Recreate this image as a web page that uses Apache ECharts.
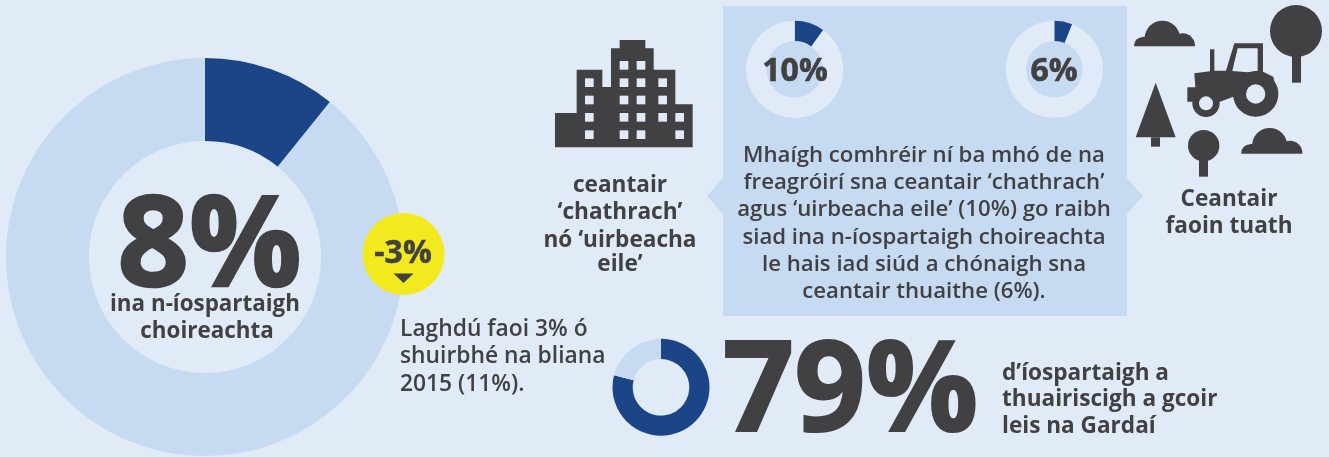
<!DOCTYPE html>
<html>
<head>
<meta charset="utf-8">
<title>Íospartaigh choireachta</title>
<style>
  html, body { margin: 0; padding: 0; background: #e1ebf8; }
  #main { width: 1329px; height: 457px; }
</style>
</head>
<body>
<div id="main"></div>
<script src="https://cdn.jsdelivr.net/npm/echarts@6/dist/echarts.min.js"></script>
<script>
var sliceNames = ['Sciar', 'Eile'];
var overallValues = [10.8, 89.2];
var urbanValues = [10, 90];
var ruralValues = [6, 94];
var reportedValues = [79, 21];

var overallBig = '8%';
var overallLines = ['ina n-íospartaigh', 'choireachta'];
var changeLabel = '-3%';
var changeLines = ['Laghdú faoi 3% ó', 'shuirbhé na bliana', '2015 (11%).'];
var urbanLabel = '10%';
var ruralLabel = '6%';
var urbanLines = ['ceantair', '‘chathrach’', 'nó ‘uirbeacha', 'eile’'];
var ruralLines = ['Ceantair', 'faoin tuath'];
var panelLines = [
  'Mhaígh comhréir ní ba mhó de na',
  'freagróirí sna ceantair ‘chathrach’',
  'agus ‘uirbeacha eile’ (10%) go raibh',
  'siad ina n-íospartaigh choireachta',
  'le hais iad siúd a chónaigh sna',
  'ceantair thuaithe (6%).'
];
var reportedBig = '79%';
var reportedLines = ['d’íospartaigh a', 'thuairiscigh a gcoir', 'leis na Gardaí'];

var BG = '#e1ebf8';
var LIGHT = '#c6dbf1';
var DARK = '#1c4587';
var INK = '#414042';
var YELLOW = '#f2e91f';
var FONT = '"Open Sans", sans-serif';

function donut(values, cx, cy, inner, outer, colors) {
  return {
    type: 'pie',
    silent: true,
    animation: false,
    z: 2,
    center: [cx, cy],
    radius: [inner, outer],
    startAngle: 90,
    label: { show: false },
    labelLine: { show: false },
    data: sliceNames.map(function (name, i) {
      return { name: name, value: values[i], itemStyle: { color: colors[i] } };
    })
  };
}

// thicken is a stroke in the ink colour, the big numbers are heavier than plain bold
function text(str, x, y, size, weight, align, thicken) {
  return {
    type: 'text',
    z: 100,
    style: {
      text: str,
      x: x,
      y: y,
      fill: INK,
      stroke: thicken ? INK : null,
      lineWidth: thicken || 0,
      font: weight + ' ' + size + 'px ' + FONT,
      textAlign: align || 'center',
      textVerticalAlign: 'middle'
    }
  };
}

function lines(list, x, ys, size, weight, align) {
  return list.map(function (str, i) {
    return text(str, x, ys[i], size, weight, align);
  });
}

function poly(points, color, z) {
  return { type: 'polygon', z: z === undefined ? 50 : z, shape: { points: points }, style: { fill: color } };
}

function circle(cx, cy, r, color, z) {
  return { type: 'circle', z: z === undefined ? 50 : z, shape: { cx: cx, cy: cy, r: r }, style: { fill: color } };
}

function box(x, y, w, h, color, z) {
  return { type: 'rect', z: z === undefined ? 50 : z, shape: { x: x, y: y, width: w, height: h }, style: { fill: color } };
}

// icons are traced at 3x, the group scales them back
function buildingIcon() {
  var kids = [poly([[45, 339], [110, 339], [110, 209], [187, 209], [187, 261], [213, 261], [213, 145], [239, 145],
    [239, 120], [316, 120], [316, 145], [341, 145], [341, 209], [406, 209], [406, 313], [458, 313], [458, 442], [45, 442]], INK)];
  var windows = [
    [239, 183], [290, 183],
    [135, 235], [239, 235], [290, 235], [355, 235],
    [135, 287], [239, 287], [290, 287], [355, 287],
    [135, 339], [239, 339], [290, 339], [355, 339], [406, 339],
    [135, 391], [239, 391], [290, 391], [406, 391]
  ];
  windows.forEach(function (w) {
    kids.push(box(w[0], w[1], 26, 26, BG, 51));
  });
  return { type: 'group', x: 540, y: 0, scaleX: 1 / 3, scaleY: 1 / 3, children: kids };
}

// three humps, the flat base is a bg strip laid over them
function cloud(dx, dy) {
  return {
    type: 'group',
    x: dx,
    y: dy,
    children: [
      circle(517, 115, 53, INK),
      circle(578, 137, 37, INK),
      circle(458, 137, 26, INK),
      box(458, 110, 120, 29, INK),
      box(425, 139, 198, 45, BG, 51)
    ]
  };
}

function countryIcon() {
  var kids = [
    cloud(0, 0),
    cloud(322, 322),
    circle(918, 93, 78, INK),
    box(906, 160, 27, 88, INK),
    circle(641, 437, 47, INK),
    box(627, 475, 27, 55, INK),
    poly([[497, 248], [557, 412], [437, 412]], INK),
    box(483, 412, 27, 28, INK),
    poly([[592, 262], [616, 262], [613, 220], [660, 214], [660, 148], [673, 148], [673, 212], [708, 212], [733, 130],
      [819, 130], [819, 215], [850, 230], [860, 282], [730, 290], [690, 305], [592, 305]], INK),
    poly([[743, 145], [803, 145], [803, 212], [775, 217], [727, 213]], BG, 51),
    circle(797, 282, 68, INK, 51),
    circle(797, 282, 29, BG, 52),
    circle(648, 310, 41, INK, 51),
    circle(648, 310, 21, BG, 52)
  ];
  return { type: 'group', x: 990, y: 0, scaleX: 1 / 3, scaleY: 1 / 3, children: kids };
}

var elements = [
  // panel sits under the two small donuts
  box(723, 6, 404, 310, LIGHT, 0),
  poly([[723, 178], [707, 196], [723, 214]], LIGHT, 0),
  poly([[1127, 178], [1143, 196], [1127, 214]], LIGHT, 0),
  circle(403.5, 254, 41, YELLOW),
  poly([[393.5, 273.5], [413.5, 273.5], [403.5, 283]], INK, 60),
  buildingIcon(),
  countryIcon(),
  text(overallBig, 209.5, 250.5, 125, 700, 'center', 2.5),
  text(changeLabel, 403, 254, 32, 700, 'center', 0.5),
  text(urbanLabel, 795, 72, 32, 700, 'center', 0.6),
  text(ruralLabel, 1054, 72, 32, 700, 'center', 0.6),
  text(reportedBig, 850.5, 395.5, 125, 700, 'center', 2)
];
elements = elements.concat(
  text(overallLines[0], 205, 304.5, 22.4, 700),
  text(overallLines[1], 207, 331.5, 22.4, 700),
  lines(changeLines, 400, [330, 357, 385], 22.8, 600, 'left'),
  lines(urbanLines, 620, [185.5, 212.5, 240.5, 264.5], 22.6, 700),
  lines(ruralLines, 1229, [199.5, 226.5], 22.6, 700),
  lines(panelLines, 924, [155.5, 182.5, 210, 237.5, 264.5, 292], 22.2, 600),
  lines(reportedLines, 1002, [374, 400, 427], 22.6, 700, 'left')
);

var myChart = echarts.init(document.getElementById('main'), null, { renderer: 'canvas' });
myChart.setOption({
  backgroundColor: BG,
  animation: false,
  tooltip: { show: false },
  legend: { show: false },
  series: [
    donut(overallValues, 205, 257, 116, 199, [DARK, LIGHT]),
    donut(urbanValues, 794.7, 69.3, 28.3, 48.5, [DARK, BG]),
    donut(ruralValues, 1054.3, 69.3, 28.3, 48.5, [DARK, BG]),
    donut(reportedValues, 661, 387.3, 28.3, 48.5, [DARK, LIGHT])
  ],
  graphic: { elements: elements }
});
</script>
</body>
</html>
